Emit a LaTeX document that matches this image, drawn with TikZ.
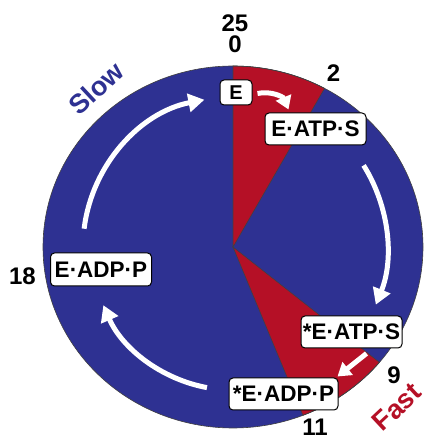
\documentclass[tikz,border=0pt]{standalone}
\usepackage{fontspec}
\setmainfont{Liberation Sans}
\usetikzlibrary{arrows.meta}
\definecolor{cycleblue}{RGB}{46,49,146}
\definecolor{cyclered}{RGB}{181,16,38}
\begin{document}
\begin{tikzpicture}[x=1pt,y=1pt,
  state/.style={draw=black, line width=1pt, fill=white, rounded corners=4pt,
    inner sep=0pt, minimum height=32pt,
    font=\bfseries\fontsize{22.5}{22.5}\selectfont},
  num/.style={font=\bfseries\fontsize{24}{24}\selectfont, inner sep=0pt},
  rate/.style={font=\bfseries\fontsize{27}{27}\selectfont, inner sep=0pt, rotate=43},
  flow/.style={draw=white, line width=5pt, -{Triangle[width=18pt,length=16pt]}},
  shortflow/.style={draw=white, line width=5pt, -{Triangle[width=16pt,length=13pt]}},
  rim/.style={draw=black!75, line width=0.6pt}
]
\useasboundingbox (0,0) rectangle (427,439);
\coordinate (C) at (233,192);

% clock face: slow (blue) and fast (red) sectors, 25 units per turn
\fill[cycleblue] (C) ellipse[x radius=190, y radius=181];
\filldraw[cyclered, rim] (C) -- ++(61.2:190 and 181)
  arc[start angle=61.2, end angle=90, x radius=190, y radius=181] -- cycle;
\filldraw[cyclered, rim] (C) -- ++(-68.4:190 and 181)
  arc[start angle=-68.4, end angle=-39.6, x radius=190, y radius=181] -- cycle;
\draw[rim] (C) ellipse[x radius=190, y radius=181];

% states
\node[state, minimum width=32pt, minimum height=25pt,
  font=\bfseries\fontsize{20}{20}\selectfont] (E) at (236,346.5) {E};
\node[state, minimum width=101pt] (EATPS) at (315.5,310) {E·ATP·S};
\node[state, minimum width=101pt] (sEATPS) at (351.5,107) {*E·ATP·S};
\node[state, minimum width=109pt] (sEADPP) at (283.5,45) {*E·ADP·P};
\node[state, minimum width=101pt, minimum height=33pt] (EADPP) at (101,169.5) {E·ADP·P};

% arrow end points
\path (C) ++(173:150) coordinate (slowin);
\path (C) ++(32:154) coordinate (bindout);
\path (C) ++(259.5:143) coordinate (releaseout);

% transitions
\draw[shortflow] ([xshift=5pt,yshift=-1pt]E.east) to[bend left=40]
  ([xshift=-27pt,yshift=3pt]EATPS.north);
\draw[flow] (bindout) arc[start angle=32, end angle=-22, radius=154];
\draw[shortflow] ([xshift=15pt,yshift=-5pt]sEATPS.south) --
  ([xshift=-1pt,yshift=1pt]sEADPP.north east);
\draw[flow] (releaseout) arc[start angle=259.5, end angle=203.5, radius=141];
\draw[flow] (slowin) arc[start angle=173, end angle=101, radius=150];

% clock readings
\node[num] (t25) at (235,415.5) {25};
\node[num] (t0) at (235,395) {0};
\node[num] (t2) at (333.5,365.5) {2};
\node[num] (t9) at (394,63.5) {9};
\node[num] (t11) at (315,12) {11};
\node[num] (t18) at (22.5,162.5) {18};

% rates
\node[rate, text=cycleblue] (slow) at (96,350.7) {Slow};
\node[rate, text=cyclered] (fast) at (397,32) {Fast};
\end{tikzpicture}
\end{document}
